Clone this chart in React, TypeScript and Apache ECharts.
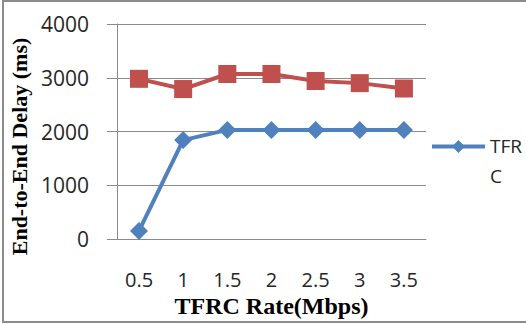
import React, { useEffect, useRef } from "react";
import * as echarts from "echarts";

const rates = ["0.5", "1", "1.5", "2", "2.5", "3", "3.5"];
const tfrcDelay = [150, 1840, 2030, 2030, 2030, 2030, 2030];
const otherDelay = [2980, 2790, 3070, 3070, 2940, 2900, 2800];
const yTicks = { min: 0, max: 4000, interval: 1000 };

const BLUE = "#4f81bd";
const RED = "#c0504d";
const GRID = "#8a8a8a";
const LABEL = "#262626";

export default function App() {
  const ref = useRef<HTMLDivElement>(null);

  useEffect(() => {
    if (!ref.current) return;
    const chart = echarts.init(ref.current, undefined, { renderer: "svg" });
    chart.setOption({
      animation: false,
      backgroundColor: "#ffffff",
      grid: { left: 110, right: 100, top: 24, bottom: 85, containLabel: false },
      graphic: [
        {
          type: "rect",
          shape: { x: 3, y: 1, width: 540, height: 321 },
          style: { fill: "none", stroke: "#8c8c8c", lineWidth: 2 },
          silent: true,
        },
      ],
      legend: {
        data: ["TFRC"],
        orient: "vertical",
        left: 430,
        top: 136,
        padding: 0,
        itemWidth: 53,
        itemHeight: 16,
        lineStyle: { width: 4 },
        // the legend name wraps onto a second line, as in a narrow legend box
        formatter: () => "{a|TFR}\n{b|C}",
        textStyle: {
          fontFamily: "Open Sans",
          fontSize: 19,
          color: LABEL,
          rich: {
            a: { fontFamily: "Open Sans", fontSize: 19, color: LABEL, lineHeight: 58 },
            b: { fontFamily: "Open Sans", fontSize: 19, color: LABEL, lineHeight: 2 },
          },
        },
      },
      xAxis: {
        type: "category",
        data: rates,
        boundaryGap: true,
        name: "TFRC Rate(Mbps)",
        nameLocation: "middle",
        nameGap: 53,
        nameTextStyle: {
          fontFamily: "Liberation Serif",
          fontWeight: "bold",
          fontSize: 24,
          color: "#000",
        },
        axisLine: { show: true, lineStyle: { color: GRID, width: 1 } },
        axisTick: { show: false },
        axisLabel: {
          margin: 30,
          fontFamily: "Open Sans",
          fontSize: 20,
          color: LABEL,
        },
        splitLine: { show: false },
      },
      yAxis: {
        type: "value",
        min: yTicks.min,
        max: yTicks.max,
        interval: yTicks.interval,
        name: "End-to-End Delay (ms)",
        nameLocation: "middle",
        nameGap: 80,
        nameTextStyle: {
          fontFamily: "Liberation Serif",
          fontWeight: "bold",
          fontSize: 22,
          color: "#000",
          padding: [0, 30, 0, 0],
        },
        axisLine: { show: true, lineStyle: { color: GRID, width: 1 } },
        axisTick: { show: true, length: 10, lineStyle: { color: GRID } },
        axisLabel: {
          margin: 28,
          fontFamily: "Open Sans",
          fontSize: 21,
          color: LABEL,
          formatter: (v: number) => String(v),
        },
        splitLine: { show: true, lineStyle: { color: GRID, width: 1 } },
      },
      series: [
        {
          name: "Delay",
          type: "line",
          data: otherDelay,
          symbol: "rect",
          symbolSize: 18,
          lineStyle: { color: RED, width: 4 },
          itemStyle: { color: RED },
          z: 3,
        },
        {
          name: "TFRC",
          type: "line",
          data: tfrcDelay,
          symbol: "diamond",
          symbolSize: [18, 18],
          lineStyle: { color: BLUE, width: 4 },
          itemStyle: { color: BLUE },
          z: 4,
        },
      ],
    });
    return () => chart.dispose();
  }, []);

  return (
    <div
      ref={ref}
      style={{ position: "fixed", left: 0, top: 0, width: 526, height: 324 }}
    />
  );
}
